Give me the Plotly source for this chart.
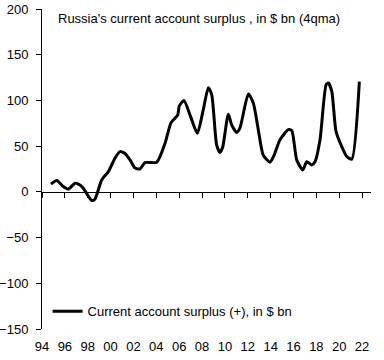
import plotly.graph_objects as go

# Data (decimal year, $ bn, 4-quarter moving average)
years = [1994.79, 1995.29, 1995.86, 1996.30, 1996.89, 1997.32, 1997.61, 1998.35, 1998.64,
         1999.22, 1999.80, 2000.39, 2000.82, 2001.26, 2001.70, 2002.14, 2002.57, 2003.01,
         2004.04, 2004.76, 2005.29, 2005.87, 2006.01, 2006.42, 2007.01, 2007.59, 2008.11,
         2008.55, 2008.85, 2009.28, 2009.57, 2009.81, 2010.30, 2010.60, 2011.03, 2011.32,
         2012.05, 2012.49, 2012.92, 2013.36, 2013.95, 2014.30, 2014.82, 2015.55, 2015.85,
         2016.28, 2016.81, 2017.16, 2017.60, 2017.88, 2018.32, 2018.85, 2019.05, 2019.35,
         2019.72, 2020.22, 2020.66, 2021.10, 2021.76]
surplus = [8.4, 12.4, 5.8, 3, 9.5, 7.6, 4, -9.5, -7.7,
           13, 22, 37, 44, 42, 35, 26, 25, 32,
           32.5, 53, 75.7, 84, 94, 100, 82, 64, 90,
           114, 106, 51, 43, 49, 85, 73, 65, 70,
           107, 97, 68, 40, 32.5, 40, 57, 68, 67,
           35, 24, 33, 29.5, 33, 57, 117, 119, 110,
           66, 49.5, 38.6, 35.7, 120.5]

tick_years = list(range(1994, 2023, 2))
tick_text = [str(y)[-2:] for y in tick_years]
y_ticks = [-150, -100, -50, 0, 50, 100, 150, 200]
y_range = [-150, 200]
x_range = [1994, 2022.78]

title_text = "Russia's current account surplus , in $ bn (4qma)"
series_name = "Current account surplus (+), in $ bn"

font_family = "Liberation Sans"

fig = go.Figure()
fig.add_trace(go.Scatter(
    x=years, y=surplus, mode="lines", name=series_name,
    line=dict(color="black", width=3, shape="spline", smoothing=0.6),
    xaxis="x", yaxis="y",
))

zero_pos = (0 - y_range[0]) / (y_range[1] - y_range[0])

fig.update_layout(
    width=384, height=360,
    margin=dict(l=42, r=13, t=9, b=31, autoexpand=False),
    paper_bgcolor="white", plot_bgcolor="white",
    font=dict(family=font_family, size=13, color="black"),
    showlegend=True,
    legend=dict(x=0.017, y=0.055, xanchor="left", yanchor="middle",
                bgcolor="rgba(0,0,0,0)", font=dict(size=13), itemwidth=30),
    xaxis=dict(range=x_range, tickvals=tick_years, ticktext=tick_text,
               showline=False, ticks="", showgrid=False, zeroline=False,
               tickfont=dict(size=13), automargin=False, ticklabelstandoff=8),
    xaxis2=dict(range=x_range, overlaying="x", anchor="free", position=zero_pos,
                tickvals=tick_years, showticklabels=False, showline=True,
                linecolor="black", linewidth=1, ticks="outside", ticklen=5,
                tickcolor="black", showgrid=False, zeroline=False, automargin=False),
    yaxis=dict(range=y_range, tickvals=y_ticks, showline=True, linecolor="black",
               linewidth=1, ticks="outside", ticklen=5, tickcolor="black",
               showgrid=False, zeroline=False, tickfont=dict(size=13),
               automargin=False, ticklabelstandoff=5),
    annotations=[dict(text=title_text, x=0.044, y=0.97, xref="paper", yref="paper",
                      xanchor="left", yanchor="middle", showarrow=False,
                      font=dict(size=13))],
)
# invisible trace to activate the zero-line x axis
fig.add_trace(go.Scatter(x=[x_range[0]], y=[0], xaxis="x2", yaxis="y",
                         mode="markers", marker=dict(opacity=0), showlegend=False,
                         hoverinfo="skip"))

fig.write_html("out.html", config={"displayModeBar": False},
               post_script="document.body.style.margin='0';document.body.style.overflow='hidden';")
